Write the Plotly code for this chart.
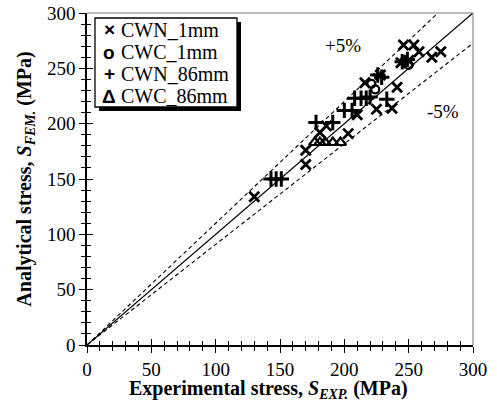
import plotly.graph_objects as go

# ---- data ----
cwn_1mm_x = [130, 170, 170, 181, 186, 203, 210, 216, 225, 228, 237, 241, 246, 254, 258, 268, 275, 244, 250]
cwn_1mm_y = [134, 163, 176, 192, 198, 191, 208, 237, 213, 244, 214, 233, 271, 271, 265, 260, 265, 255, 257]

cwc_1mm_x = [221, 224, 247, 250]
cwc_1mm_y = [236, 231, 257, 253]

cwn_86mm_x = [143, 147, 151, 178, 191, 200, 206, 208, 213, 217, 220, 226, 229, 233, 245, 249]
cwn_86mm_y = [150, 150, 150, 201, 201, 212, 212, 223, 223, 223, 224, 244, 242, 222, 256, 258]

cwc_86mm_x = [177, 181, 185, 191, 197]
cwc_86mm_y = [183, 183, 183, 183, 183]

series_names = ["CWN_1mm", "CWC_1mm", "CWN_86mm", "CWC_86mm"]
legend_glyphs = ["×", "o", "+", "Δ"]

ref_x = [0, 300]
upper_ratio = 1.1
lower_ratio = 1 / 1.1

x_ticks = [0, 50, 100, 150, 200, 250, 300]
y_ticks = [0, 50, 100, 150, 200, 250, 300]

FONT = "Liberation Serif"
SYMFONT = "Liberation Sans"

fig = go.Figure()

# reference lines
fig.add_trace(go.Scatter(x=ref_x, y=ref_x, mode="lines", line=dict(color="black", width=1.3),
                         showlegend=False, hoverinfo="skip"))
fig.add_trace(go.Scatter(x=ref_x, y=[v * upper_ratio for v in ref_x], mode="lines",
                         line=dict(color="black", width=1.1, dash="4px,3px"),
                         showlegend=False, hoverinfo="skip"))
fig.add_trace(go.Scatter(x=ref_x, y=[v * lower_ratio for v in ref_x], mode="lines",
                         line=dict(color="black", width=1.1, dash="4px,3px"),
                         showlegend=False, hoverinfo="skip"))

fig.add_trace(go.Scatter(x=cwn_1mm_x, y=cwn_1mm_y, mode="markers", name=series_names[0],
                         showlegend=False,
                         marker=dict(symbol="x-thin", size=10, color="black",
                                     line=dict(color="black", width=2.8))))
fig.add_trace(go.Scatter(x=cwc_1mm_x, y=cwc_1mm_y, mode="markers", name=series_names[1],
                         showlegend=False,
                         marker=dict(symbol="circle-open", size=8, color="black",
                                     line=dict(color="black", width=2.2))))
fig.add_trace(go.Scatter(x=cwn_86mm_x, y=cwn_86mm_y, mode="markers", name=series_names[2],
                         showlegend=False,
                         marker=dict(symbol="cross-thin", size=11, color="black",
                                     line=dict(color="black", width=3))))
fig.add_trace(go.Scatter(x=cwc_86mm_x, y=cwc_86mm_y, mode="markers", name=series_names[3],
                         showlegend=False,
                         marker=dict(symbol="triangle-up-open", size=10, color="black",
                                     line=dict(color="black", width=2.2))))

# dummy trace for overlay axes (inside ticks, giving crossing ticks)
fig.add_trace(go.Scatter(x=[None], y=[None], xaxis="x2", yaxis="y2", showlegend=False,
                         hoverinfo="skip"))

axis_common = dict(range=[0, 300], showgrid=False, zeroline=False, automargin=False,
                   showline=True, linecolor="black", linewidth=1.5,
                   ticks="outside", ticklen=6, tickwidth=1.3, tickcolor="black",
                   ticklabeloverflow="allow",
                   minor=dict(dtick=10, ticks="outside", ticklen=4, tickwidth=1.1, tickcolor="black"),
                   tickfont=dict(family=FONT, size=19, color="black"))

overlay_common = dict(range=[0, 300], showticklabels=False, showgrid=False, zeroline=False,
                      showline=False, automargin=False,
                      ticks="inside", ticklen=6, tickwidth=1.3, tickcolor="black",
                      minor=dict(dtick=10, ticks="inside", ticklen=4, tickwidth=1.1, tickcolor="black"))

# legend box (drawn by hand so it matches the compact reference legend)
box_x0, box_x1, box_y0, box_y1 = 0.0207, 0.3886, 0.7169, 0.985
shadow_dx, shadow_dy = 0.0104, 0.012
row_y = [0.9488, 0.8816, 0.8163, 0.75]
sym_x, text_x = 0.0578, 0.0837

shapes = [
    dict(type="line", xref="paper", yref="paper", x0=0, x1=1, y0=1, y1=1,
         line=dict(color="#777777", width=1)),
    dict(type="line", xref="paper", yref="paper", x0=1, x1=1, y0=0, y1=1,
         line=dict(color="#777777", width=1)),
    dict(type="rect", xref="paper", yref="paper", layer="above",
         x0=box_x0 + shadow_dx, x1=box_x1 + shadow_dx, y0=box_y0 - shadow_dy, y1=box_y1 - shadow_dy,
         fillcolor="black", line=dict(color="black", width=0)),
    dict(type="rect", xref="paper", yref="paper", layer="above",
         x0=box_x0, x1=box_x1, y0=box_y0, y1=box_y1,
         fillcolor="white", line=dict(color="black", width=1.3)),
]

annotations = [
    dict(x=199, y=271, xref="x", yref="y", text="+5%", showarrow=False,
         font=dict(family=FONT, size=19, color="black")),
    dict(x=277, y=211, xref="x", yref="y", text="-5%", showarrow=False,
         font=dict(family=FONT, size=19, color="black")),
    dict(x=0.469, y=-0.1747, xref="paper", yref="paper", showarrow=False,
         xanchor="center", yanchor="bottom", borderpad=0,
         text="<b>Experimental stress, <i>S<sub>EXP.</sub></i> (MPa)</b>",
         font=dict(family=FONT, size=20, color="black")),
]
for name, glyph, ry in zip(series_names, legend_glyphs, row_y):
    annotations.append(dict(x=sym_x, y=ry, xref="paper", yref="paper", text="<b>" + glyph + "</b>",
                            showarrow=False, xanchor="center", yanchor="middle",
                            font=dict(family=SYMFONT, size=19, color="black")))
    annotations.append(dict(x=text_x, y=ry, xref="paper", yref="paper", text=name,
                            showarrow=False, xanchor="left", yanchor="middle",
                            font=dict(family=FONT, size=20, color="black")))

fig.update_layout(
    width=497, height=403,
    margin=dict(l=87, r=24, t=13, b=58, autoexpand=False),
    paper_bgcolor="white", plot_bgcolor="white",
    font=dict(family=FONT, color="black"),
    xaxis=dict(**axis_common, tickvals=x_ticks),
    yaxis=dict(**axis_common, tickvals=y_ticks,
               title=dict(text="<b>Analytical stress, <i>S<sub>FEM.</sub></i> (MPa)</b>",
                          font=dict(family=FONT, size=20, color="black"), standoff=10)),
    xaxis2=dict(**overlay_common, overlaying="x", anchor="y2", tickvals=x_ticks),
    yaxis2=dict(**overlay_common, overlaying="y", anchor="x2", tickvals=y_ticks),
    showlegend=False,
    annotations=annotations,
    shapes=shapes,
)

# remove the default 8px page margin so the figure sits at the window's top-left corner
fig.write_html("out.html", config={"displayModeBar": False},
               post_script="document.body.style.margin='0px';")
